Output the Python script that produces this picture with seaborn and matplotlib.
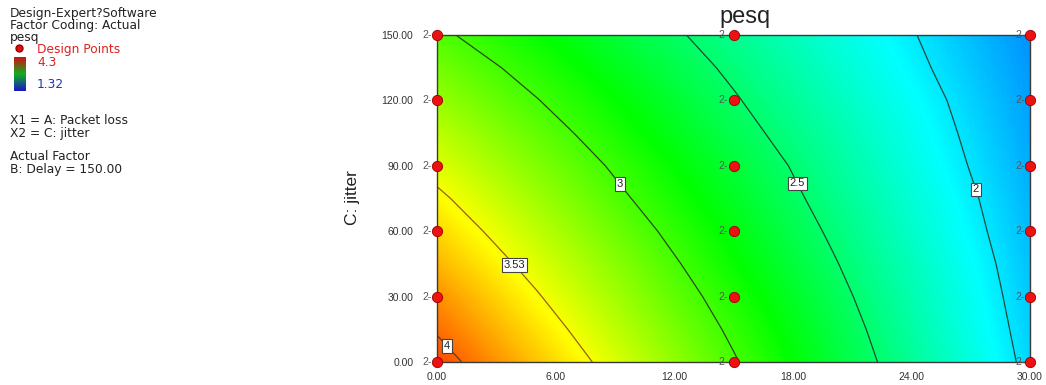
import numpy as np
import pandas as pd
import matplotlib
matplotlib.use("Agg")
import matplotlib.pyplot as plt
import seaborn as sns
from matplotlib.colors import LinearSegmentedColormap

# response surface values (rows = jitter, cols = packet loss)
packet_loss = [0, 5, 10, 15, 20, 25, 30]
jitter = [0, 15, 30, 45, 60, 75, 90, 105, 120, 135, 150]
pesq = [
    [4.09, 3.73, 3.38, 3.02, 2.66, 2.31, 1.95],
    [3.98, 3.64, 3.30, 2.96, 2.62, 2.27, 1.93],
    [3.88, 3.55, 3.22, 2.90, 2.57, 2.24, 1.91],
    [3.77, 3.46, 3.15, 2.83, 2.52, 2.21, 1.89],
    [3.67, 3.37, 3.07, 2.77, 2.47, 2.17, 1.87],
    [3.57, 3.28, 2.99, 2.71, 2.42, 2.14, 1.85],
    [3.46, 3.19, 2.92, 2.65, 2.38, 2.10, 1.83],
    [3.36, 3.10, 2.84, 2.58, 2.33, 2.07, 1.81],
    [3.25, 3.01, 2.77, 2.52, 2.28, 2.04, 1.79],
    [3.15, 2.92, 2.69, 2.46, 2.23, 2.00, 1.77],
    [3.04, 2.83, 2.61, 2.40, 2.18, 1.97, 1.75],
]
pesq_min = 1.32
pesq_max = 4.3

contour_levels = [2, 2.5, 3, 3.53, 4]
contour_names = {2: "2", 2.5: "2.5", 3: "3", 3.53: "3.53", 4: "4"}

# design points (each replicated twice)
design_loss = [0, 0, 0, 0, 0, 0, 15, 15, 15, 15, 15, 15, 30, 30, 30, 30, 30, 30]
design_jitter = [0, 30, 60, 90, 120, 150] * 3
design_reps = [2] * 18

x_ticks = [0, 6, 12, 18, 24, 30]
y_ticks = [0, 30, 60, 90, 120, 150]

legend_lines = ["Design-Expert?Software", "Factor Coding: Actual", "pesq"]
factor_lines = ["X1 = A: Packet loss", "X2 = C: jitter"]
actual_lines = ["Actual Factor", "B: Delay = 150.00"]


def main():
    sns.set_style("white")
    plt.rcParams['font.family'] = ['Liberation Sans', 'DejaVu Sans']

    W, H = 1046, 385
    fig = plt.figure(figsize=(W / 100, H / 100), dpi=100)
    ax = fig.add_axes([437 / W, 1 - 362 / H, (1030 - 437) / W, (362 - 35) / H])

    cmap = LinearSegmentedColormap.from_list(
        "de", ["#0000ff", "#00ffff", "#00ff00", "#ffff00", "#ff0000"])

    Z = np.array(pesq)
    dx = (packet_loss[1] - packet_loss[0]) / 2
    dy = (jitter[1] - jitter[0]) / 2
    ax.imshow(Z, origin='lower', aspect='auto', cmap=cmap, vmin=pesq_min, vmax=pesq_max,
              interpolation='bilinear', interpolation_stage='data',
              extent=[packet_loss[0] - dx, packet_loss[-1] + dx, jitter[0] - dy, jitter[-1] + dy])

    line_cols = ['#1f4a3a', '#1f4a30', '#2a4a20', '#9a6018', '#6a3a10']
    cs = ax.contour(packet_loss, jitter, Z, levels=contour_levels,
                    colors=line_cols, linewidths=0.9)
    label_spots = [(27.2, 79), (18.4, 82.6), (9.4, 82.6), (4.0, 45), (0.6, 8)]
    texts = ax.clabel(cs, inline=False, fontsize=8, fmt=contour_names,
                      manual=label_spots, colors='#222222')
    for t in texts:
        t.set_rotation(0)
        t.set_bbox(dict(boxstyle='square,pad=0.15', fc='white', ec='#444444', lw=0.8))

    df = pd.DataFrame({"loss": design_loss, "jitter": design_jitter, "reps": design_reps})
    sns.scatterplot(data=df, x="loss", y="jitter", ax=ax, color='#ee1111',
                    edgecolor='#990000', linewidth=0.6, s=55, clip_on=False, zorder=5,
                    legend=False)
    for _, r in df.iterrows():
        ax.annotate(str(r["reps"]) + "-", (r["loss"], r["jitter"]), xytext=(-4, 0),
                    textcoords='offset points', ha='right', va='center',
                    fontsize=7.5, color='#555555', annotation_clip=False, zorder=6)

    ax.set_xlim(0, 30)
    ax.set_ylim(0, 150)
    ax.set_xticks(x_ticks)
    ax.set_yticks(y_ticks)
    ax.set_xticklabels(["%.2f" % v for v in x_ticks])
    ax.set_yticklabels(["%.2f" % v for v in y_ticks])
    ax.tick_params(axis='both', length=0, labelsize=7.5, colors='#333333')
    ax.tick_params(axis='y', pad=17)
    ax.tick_params(axis='x', pad=7)
    ax.set_xlabel("")
    ax.set_ylabel("")
    for sp in ax.spines.values():
        sp.set_color('#3a3a3a')
        sp.set_linewidth(1)

    fig.text(745 / W, 1 - 17 / H, "pesq", fontsize=17, ha='center', va='center', color='#222222')
    fig.text(352 / W, 1 - 198 / H, "C: jitter", fontsize=12.5, rotation=90,
             ha='center', va='center', color='#222222')

    # left side legend block (wider font, like the original)
    fs = 8.8
    lf = ['DejaVu Sans']
    for i, s in enumerate(legend_lines):
        fig.text(10 / W, 1 - (13 + 12.5 * i) / H, s, fontsize=fs, va='center',
                 color='#222222', family=lf)
    fig.text(37 / W, 1 - 49 / H, "Design Points", fontsize=fs, va='center',
             color='#dd2222', family=lf)
    fig.lines.append(plt.Line2D([19 / W], [1 - 48 / H], marker='o', ms=5, color='#dd1111',
                                mec='#990000', transform=fig.transFigure, figure=fig))
    swatch = LinearSegmentedColormap.from_list("sw", ["#1818c8", "#10b020", "#d01010"])
    cax = fig.add_axes([14 / W, 1 - 91 / H, 12 / W, 34 / H])
    cax.imshow(np.linspace(1, 0, 50).reshape(-1, 1), aspect='auto', cmap=swatch)
    cax.set_axis_off()
    fig.text(37 / W, 1 - 62 / H, "%.1f" % pesq_max, fontsize=fs, va='center',
             color='#dd2222', family=lf)
    fig.text(37 / W, 1 - 85 / H, "%.2f" % pesq_min, fontsize=fs, va='center',
             color='#2233bb', family=lf)
    for i, s in enumerate(factor_lines):
        fig.text(10 / W, 1 - (121 + 12.5 * i) / H, s, fontsize=fs, va='center',
                 color='#222222', family=lf)
    for i, s in enumerate(actual_lines):
        fig.text(10 / W, 1 - (157 + 12.5 * i) / H, s, fontsize=fs, va='center',
                 color='#222222', family=lf)

    fig.savefig("out.png", dpi=100)


if __name__ == "__main__":
    main()
